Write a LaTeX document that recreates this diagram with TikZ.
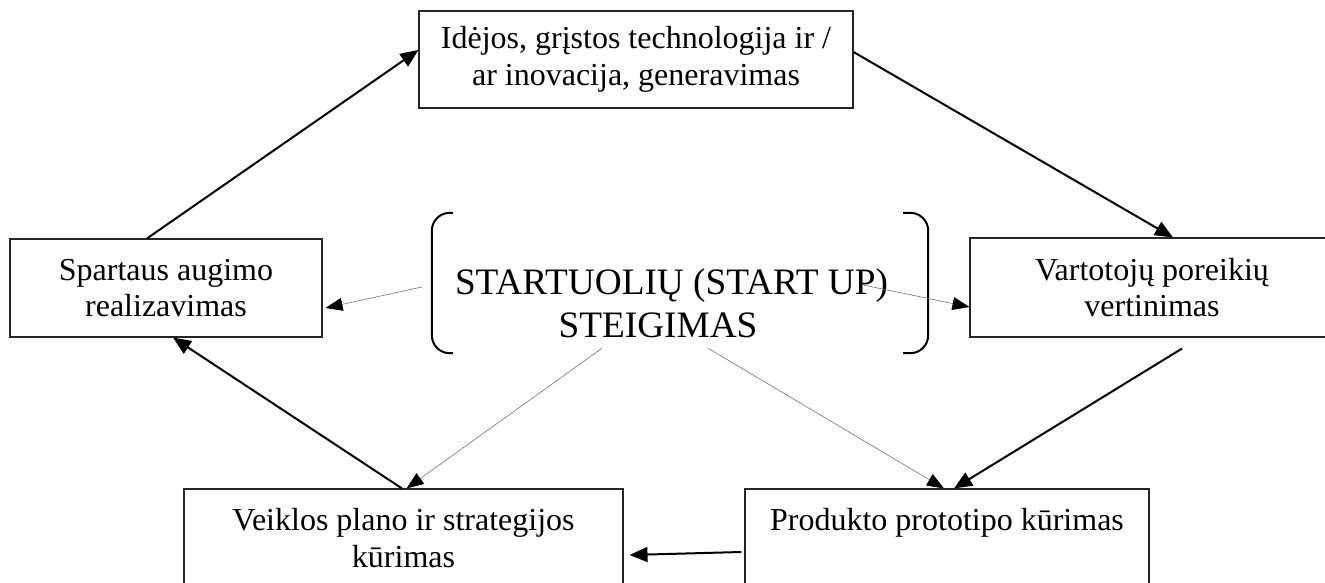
\documentclass[tikz,border=0pt]{standalone}
\usepackage{fontspec}
\setmainfont{Liberation Serif}
\usetikzlibrary{arrows.meta}
\newcommand\bxfont{\fontsize{32}{36.8}\selectfont}
\newcommand\cxfont{\fontsize{37.3}{42.9}\selectfont}
\begin{document}
\begin{tikzpicture}[x=1pt,y=-1pt,
  box/.style={draw=black!85, line width=1.1pt, inner sep=0pt, align=center, font=\bxfont},
  ctext/.style={inner sep=0pt, align=center, font=\cxfont},
  brk/.style={draw=black, line width=2pt, rounded corners=18pt},
  bigarrow/.style={draw=black, line width=2pt, -{Triangle[length=18pt,width=15pt]}},
  thinarrow/.style={draw=black!55, line width=0.6pt, -{Triangle[length=17pt,width=13pt,color=black]}}]
\useasboundingbox[fill=white] (0,0) rectangle (1325,583);

\node[box, minimum width=434pt, minimum height=97pt] (T) at (636,59.5)
  {Idėjos, grįstos technologija ir /\\ar inovacija, generavimas};
\node[box, minimum width=312pt, minimum height=98pt] (L) at (166,288)
  {Spartaus augimo\\realizavimas};
\node[box, minimum width=364pt, minimum height=99pt] (R) at (1152,287.5)
  {Vartotojų poreikių\\vertinimas};
\node[box, minimum width=439pt, minimum height=98pt] (BL) at (403.5,538)
  {Veiklos plano ir strategijos\\kūrimas};
\node[box, minimum width=404pt, minimum height=98pt] (BR) at (947,538)
  {Produkto prototipo kūrimas\\\mbox{}};

\node[inner sep=0pt, minimum width=496pt, minimum height=140pt] (C) at (680,283) {};
\node[ctext] (Ct) at (671.5,303) {STARTUOLIŲ (START UP)\\STEIGIMAS\makebox[27pt]{}};
\draw[brk] ([xshift=21pt]C.north west) -- (C.north west) -- (C.south west) -- ([xshift=21pt]C.south west);
\draw[brk] ([xshift=-25pt]C.north east) -- (C.north east) -- (C.south east) -- ([xshift=-25pt]C.south east);

% main cycle
\draw[bigarrow] ([xshift=-19pt]L.north) -- ([yshift=9.5pt]T.west);
\draw[bigarrow] ([yshift=7.5pt]T.east) -- ([xshift=21pt]R.north);
\draw[bigarrow] ([xshift=30pt,yshift=-11pt]R.south) -- ([xshift=7pt]BR.north);
\draw[bigarrow] ([xshift=-3pt,yshift=-14pt]BR.west) -- ([xshift=6pt,yshift=-17pt]BL.east);
\draw[bigarrow] ([xshift=-1.5pt]BL.north) -- ([xshift=7pt]L.south);

% from the centre
\draw[thinarrow] ([xshift=-10pt,yshift=-4pt]C.west) -- ([xshift=3pt,yshift=-20pt]L.east);
\draw[thinarrow] ([xshift=-65pt,yshift=-2pt]C.east) -- ([yshift=-19.5pt]R.west);
\draw[thinarrow] ([xshift=-78pt,yshift=5pt]C.south) -- ([xshift=3pt]BL.north);
\draw[thinarrow] ([xshift=28pt,yshift=5pt]C.south) -- ([xshift=-3pt]BR.north);
\end{tikzpicture}
\end{document}
